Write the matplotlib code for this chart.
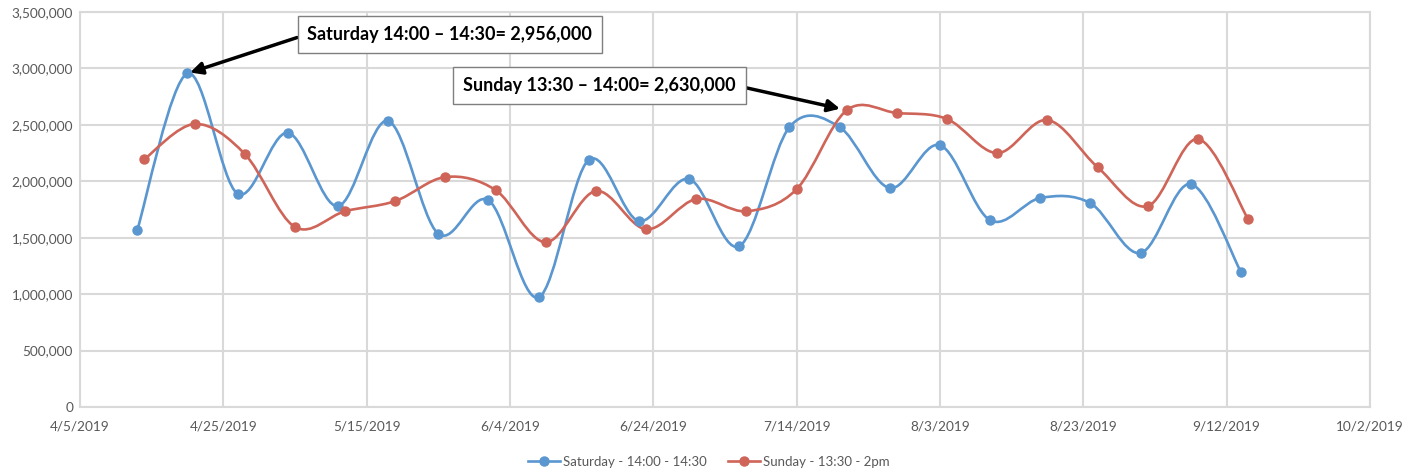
import matplotlib
matplotlib.use("Agg")
import matplotlib.pyplot as plt
import matplotlib.dates as mdates
import numpy as np
import pandas as pd
from matplotlib.path import Path
from matplotlib.patches import PathPatch
from matplotlib.lines import Line2D
from matplotlib.ticker import FuncFormatter, FixedLocator, MultipleLocator

# weekly counts
sat_dates = pd.date_range('2019-04-13', periods=23, freq='7D')
sat_values = [1570000, 2956000, 1890000, 2430000, 1780000, 2535000, 1535000,
              1832000, 972000, 2190000, 1648000, 2020000, 1425000, 2480000,
              2480000, 1940000, 2320000, 1655000, 1852000, 1806000, 1365000,
              1976000, 1196000]
sun_dates = pd.date_range('2019-04-14', periods=23, freq='7D')
sun_values = [2197000, 2508000, 2242000, 1595000, 1735000, 1825000, 2038000,
              1922000, 1460000, 1914000, 1575000, 1843000, 1735000, 1930000,
              2630000, 2605000, 2552000, 2250000, 2543000, 2125000, 1780000,
              2375000, 1664000]
tick_dates = ['2019-04-05', '2019-04-25', '2019-05-15', '2019-06-04', '2019-06-24',
              '2019-07-14', '2019-08-03', '2019-08-23', '2019-09-12', '2019-10-02']

sat_label = 'Saturday - 14:00 - 14:30'
sun_label = 'Sunday - 13:30 - 2pm'
sat_note = 'Saturday 14:00 \u2013 14:30= 2,956,000'
sun_note = 'Sunday 13:30 \u2013 14:00= 2,630,000'

BLUE = '#5A96CF'
RED = '#CF6458'
GRID = '#D9D9D9'
TEXT = '#595959'

plt.rcParams['font.family'] = ['Lato', 'DejaVu Sans']


def smooth_path(x, y):
    """catmull-rom style bezier through the points, like excel's smoothed line"""
    pts = np.column_stack([x, y])
    n = len(pts)
    verts = [pts[0]]
    codes = [Path.MOVETO]
    for i in range(n - 1):
        p0 = pts[i - 1] if i > 0 else pts[i]
        p1 = pts[i]
        p2 = pts[i + 1]
        p3 = pts[i + 2] if i + 2 < n else pts[i + 1]
        c1 = p1 + (p2 - p0) / 6.0
        c2 = p2 - (p3 - p1) / 6.0
        verts += [c1, c2, p2]
        codes += [Path.CURVE4] * 3
    return Path(verts, codes)


fig = plt.figure(figsize=(14.18, 4.73), dpi=100)
ax = fig.add_axes([0.0564, 0.1395, 0.9097, 0.8351])

for dates, vals, col in [(sat_dates, sat_values, BLUE), (sun_dates, sun_values, RED)]:
    xs = mdates.date2num(dates.to_pydatetime())
    ax.add_patch(PathPatch(smooth_path(xs, np.array(vals, dtype=float)),
                           fill=False, edgecolor=col, lw=1.9, zorder=3))
    ax.plot(xs, vals, 'o', color=col, ms=6.5, zorder=4)

tick_nums = mdates.date2num(pd.to_datetime(tick_dates).to_pydatetime())
ax.set_xlim(tick_nums[0], tick_nums[-1])
ax.set_ylim(0, 3500000)
ax.xaxis.set_major_locator(FixedLocator(tick_nums))
ax.xaxis.set_major_formatter(FuncFormatter(
    lambda v, p: '{d.month}/{d.day}/{d.year}'.format(d=mdates.num2date(v))))
ax.yaxis.set_major_locator(MultipleLocator(500000))
ax.yaxis.set_major_formatter(FuncFormatter(lambda v, p: '{:,.0f}'.format(v)))

ax.grid(True, color=GRID, lw=1.5, zorder=0)
ax.set_axisbelow(True)
for s in ax.spines.values():
    s.set_color(GRID)
    s.set_linewidth(1.5)
ax.tick_params(length=0, labelsize=9.8, labelcolor=TEXT)
ax.tick_params(axis='x', pad=10)
ax.tick_params(axis='y', pad=5)

# callouts
box = dict(boxstyle='square,pad=0.55', fc='white', ec='#7F7F7F', lw=1)
ax.annotate(sat_note, xy=(sat_dates[1], sat_values[1]),
            xytext=(0.2868, 0.944), textcoords='axes fraction',
            fontsize=13, fontweight='bold', va='center', ha='center', bbox=box,
            arrowprops=dict(arrowstyle='-|>', color='black', lw=2.5,
                            mutation_scale=18, shrinkA=0, shrinkB=2,
                            relpos=(0, 0.5)), zorder=5)
ax.annotate(sun_note, xy=(sun_dates[14], sun_values[14]),
            xytext=(0.4027, 0.814), textcoords='axes fraction',
            fontsize=13, fontweight='bold', va='center', ha='center', bbox=box,
            arrowprops=dict(arrowstyle='-|>', color='black', lw=2.5,
                            mutation_scale=18, shrinkA=0, shrinkB=5,
                            relpos=(1, 0.5)), zorder=5)

handles = [Line2D([], [], color=BLUE, lw=1.9, marker='o', ms=6.5),
           Line2D([], [], color=RED, lw=1.9, marker='o', ms=6.5)]
fig.legend(handles, [sat_label, sun_label], loc='center',
           bbox_to_anchor=(0.5, 1 - 462 / 473), ncol=2, frameon=False,
           fontsize=9.5, labelcolor=TEXT, handlelength=2.4, columnspacing=1.6,
           handletextpad=0.25)

fig.savefig('out.png', dpi=100)
